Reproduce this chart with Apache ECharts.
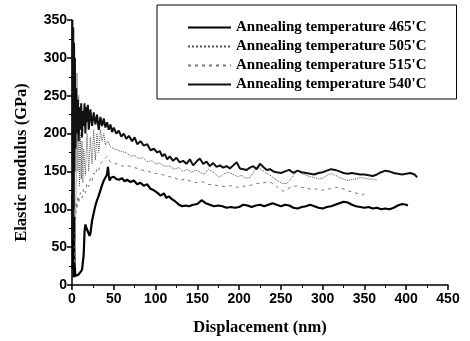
<!DOCTYPE html>
<html>
<head>
<meta charset="utf-8">
<script src="https://cdn.jsdelivr.net/npm/echarts@6/dist/echarts.min.js"></script>
<style>
  html, body { margin: 0; padding: 0; background: #fff; }
  #chart { width: 470px; height: 341px; }
</style>
</head>
<body>
<div id="chart"></div>
<script>
// legend names
var seriesNames = [
  "Annealing temperature 465'C",
  "Annealing temperature 505'C",
  "Annealing temperature 515'C",
  "Annealing temperature 540'C"
];

// [displacement (nm), modulus (GPa)]
var data465 = [
  [0.5, 120], [1, 20], [1.5, 150], [2, 10], [2.5, 90], [3, 30], [4, 12], [5, 13], [6, 11], [8, 14],
  [10, 15], [12, 20], [14, 40], [15, 70], [16, 80], [17, 76], [18, 74], [19, 77], [20, 68], [21, 65],
  [22, 68], [24, 85], [26, 95], [28, 105], [30, 112], [32, 118], [34, 125], [36, 132], [38, 138], [40, 140],
  [42, 146], [43, 156], [44, 145], [45, 138], [47, 142], [50, 143], [53, 140], [56, 139], [60, 141], [63, 137],
  [66, 139], [70, 136], [74, 138], [78, 133], [82, 135], [86, 131], [90, 133], [94, 127], [98, 125], [102, 122],
  [106, 118], [110, 121], [113, 115], [116, 117], [120, 113], [124, 110], [128, 106], [132, 104], [136, 105], [140, 104],
  [145, 106], [150, 107], [155, 112], [160, 108], [165, 106], [170, 104], [175, 105], [180, 104], [185, 102], [190, 103],
  [195, 102], [200, 103], [205, 106], [210, 105], [215, 103], [220, 105], [225, 106], [230, 104], [235, 106], [240, 108],
  [245, 106], [250, 104], [255, 106], [260, 105], [265, 102], [270, 101], [275, 103], [280, 104], [285, 106], [290, 104],
  [295, 102], [300, 101], [305, 103], [310, 104], [315, 106], [320, 108], [325, 110], [330, 109], [335, 106], [340, 104],
  [345, 103], [350, 102], [355, 103], [360, 101], [365, 102], [370, 100], [375, 101], [380, 100], [385, 102], [390, 105],
  [395, 107], [400, 106], [402, 105]
];

var data505 = [
  [4, 60], [5, 140], [6, 280], [7, 150], [8, 250], [9, 130], [10, 200], [11, 140], [12, 190], [13, 135],
  [14, 180], [16, 145], [18, 200], [20, 150], [22, 195], [24, 160], [26, 205], [28, 165], [30, 200], [32, 175],
  [34, 205], [36, 190], [38, 200], [40, 185], [43, 190], [46, 183], [50, 180], [55, 178], [60, 176], [65, 175],
  [70, 170], [75, 171], [80, 167], [85, 168], [90, 163], [96, 164], [100, 160], [105, 161], [111, 157], [117, 157],
  [122, 153], [128, 155], [133, 150], [138, 153], [143, 149], [148, 152], [153, 149], [158, 146], [163, 153], [168, 150],
  [172, 146], [177, 142], [182, 147], [187, 149], [193, 146], [198, 143], [203, 145], [208, 141], [213, 142], [218, 150],
  [222, 157], [227, 152], [232, 148], [237, 145], [242, 141], [247, 137], [252, 134], [257, 134], [262, 140], [266, 146],
  [270, 151], [275, 147], [280, 145], [285, 143], [290, 142], [295, 140], [300, 141], [305, 145], [310, 147], [315, 145],
  [320, 142], [325, 140], [330, 138], [335, 139], [340, 140], [345, 142], [350, 141], [355, 140], [360, 140], [365, 139]
];

var data515 = [
  [3, 30], [4, 80], [5, 110], [6, 100], [7, 118], [8, 108], [10, 122], [12, 115], [14, 128], [16, 122],
  [18, 135], [20, 130], [22, 142], [24, 138], [26, 148], [28, 145], [30, 155], [32, 152], [34, 160], [36, 158],
  [38, 165], [40, 163], [42, 170], [44, 165], [47, 162], [51, 160], [55, 160], [60, 157], [65, 158], [72, 156],
  [78, 154], [83, 152], [87, 151], [92, 150], [97, 148], [103, 147], [108, 146], [113, 144], [117, 143], [122, 142],
  [129, 138], [135, 140], [142, 137], [150, 135], [157, 136], [163, 133], [170, 132], [177, 131], [183, 130], [190, 131],
  [197, 129], [203, 130], [209, 131], [215, 132], [221, 134], [229, 135], [237, 136], [243, 132], [248, 127], [253, 124],
  [258, 127], [263, 130], [269, 131], [275, 129], [281, 128], [287, 126], [293, 127], [297, 125], [303, 126], [309, 127],
  [315, 129], [321, 128], [327, 126], [331, 124], [336, 123], [341, 121], [345, 120], [348, 119], [352, 122]
];

var data540 = [
  [0.5, 350], [1, 60], [1.5, 340], [2, 100], [2.5, 320], [3, 150], [3.5, 300], [4, 180], [5, 260], [6, 200],
  [7, 245], [8, 190], [9, 235], [10, 205], [11, 240], [12, 195], [13, 230], [14, 210], [15, 240], [16, 200],
  [17, 235], [18, 215], [19, 238], [20, 205], [22, 232], [24, 210], [26, 228], [28, 212], [30, 225], [32, 205],
  [34, 222], [36, 210], [38, 220], [40, 208], [42, 215], [44, 205], [46, 212], [48, 202], [50, 208], [53, 200],
  [56, 204], [59, 196], [62, 200], [65, 193], [68, 197], [72, 190], [75, 195], [78, 186], [82, 190], [86, 184],
  [90, 186], [94, 178], [98, 180], [102, 175], [105, 177], [108, 170], [111, 173], [114, 166], [117, 170], [121, 164],
  [125, 168], [129, 162], [133, 164], [137, 160], [141, 166], [145, 158], [149, 163], [153, 167], [157, 160], [161, 163],
  [165, 157], [169, 161], [173, 156], [177, 158], [181, 155], [185, 157], [189, 154], [193, 158], [197, 162], [201, 154],
  [205, 153], [209, 152], [213, 155], [217, 157], [221, 153], [225, 160], [229, 156], [233, 152], [237, 153], [241, 150],
  [245, 149], [250, 148], [255, 150], [260, 152], [265, 148], [270, 151], [275, 149], [280, 148], [285, 147], [290, 146],
  [295, 148], [300, 149], [305, 151], [310, 153], [315, 152], [320, 150], [325, 148], [330, 147], [335, 148], [340, 147],
  [345, 146], [350, 146], [355, 145], [360, 144], [365, 146], [370, 149], [375, 151], [380, 150], [385, 148], [390, 147],
  [395, 146], [400, 147], [405, 148], [410, 146], [413, 142]
];

var chart = echarts.init(document.getElementById('chart'), null, { renderer: 'canvas' });

var tickFont = { color: '#000', fontSize: 14, fontWeight: 'bold', fontFamily: 'Liberation Sans, Arial, sans-serif' };
var serif = 'Liberation Serif, Times New Roman, serif';

var option = {
  animation: false,
  backgroundColor: '#fff',
  grid: { left: 72, right: 22, top: 20, bottom: 54 },
  legend: {
    show: true,
    orient: 'vertical',
    left: 157,
    top: 5,
    padding: [15, 30, 7, 30],
    borderColor: '#000',
    borderWidth: 1,
    itemWidth: 43,
    itemHeight: 14,
    itemGap: 4,
    itemStyle: { opacity: 0 },
    textStyle: { color: '#000', fontSize: 15, fontWeight: 'bold', fontFamily: serif }
  },
  xAxis: {
    type: 'value',
    min: 0,
    max: 450,
    interval: 50,
    name: 'Displacement (nm)',
    nameLocation: 'middle',
    nameGap: 34,
    nameTextStyle: { color: '#000', fontSize: 16.5, fontWeight: 'bold', fontFamily: serif },
    axisLine: { lineStyle: { color: '#000', width: 1.5 } },
    axisTick: { length: 5, lineStyle: { color: '#000', width: 1.5 } },
    minorTick: { show: true, splitNumber: 2, length: 3, lineStyle: { color: '#000', width: 1 } },
    axisLabel: Object.assign({ margin: 7 }, tickFont),
    splitLine: { show: false }
  },
  yAxis: {
    type: 'value',
    min: 0,
    max: 350,
    interval: 50,
    name: 'Elastic modulus (GPa)',
    nameLocation: 'middle',
    nameGap: 42,
    nameTextStyle: { color: '#000', fontSize: 16.5, fontWeight: 'bold', fontFamily: serif, padding: [0, 20, 0, 0] },
    axisLine: { show: true, lineStyle: { color: '#000', width: 1.5 } },
    axisTick: { show: true, length: 5, lineStyle: { color: '#000', width: 1.5 } },
    minorTick: { show: true, splitNumber: 2, length: 3, lineStyle: { color: '#000', width: 1 } },
    axisLabel: Object.assign({ margin: 5 }, tickFont),
    splitLine: { show: false }
  },
  series: [{
    name: seriesNames[0],
    type: 'line',
    showSymbol: false,
    symbol: 'none',
    data: data465,
    itemStyle: { color: '#000' },
    lineStyle: { color: '#000', width: 2.2 }
  }, {
    name: seriesNames[1],
    type: 'line',
    showSymbol: false,
    symbol: 'none',
    data: data505,
    itemStyle: { color: '#555' },
    lineStyle: { color: '#555', width: 1, type: 'dotted' }
  }, {
    name: seriesNames[2],
    type: 'line',
    showSymbol: false,
    symbol: 'none',
    data: data515,
    itemStyle: { color: '#777' },
    lineStyle: { color: '#777', width: 1, type: [3, 4] }
  }, {
    name: seriesNames[3],
    type: 'line',
    showSymbol: false,
    symbol: 'none',
    data: data540,
    itemStyle: { color: '#111' },
    lineStyle: { color: '#111', width: 2 }
  }]
};

chart.setOption(option);
</script>
</body>
</html>
